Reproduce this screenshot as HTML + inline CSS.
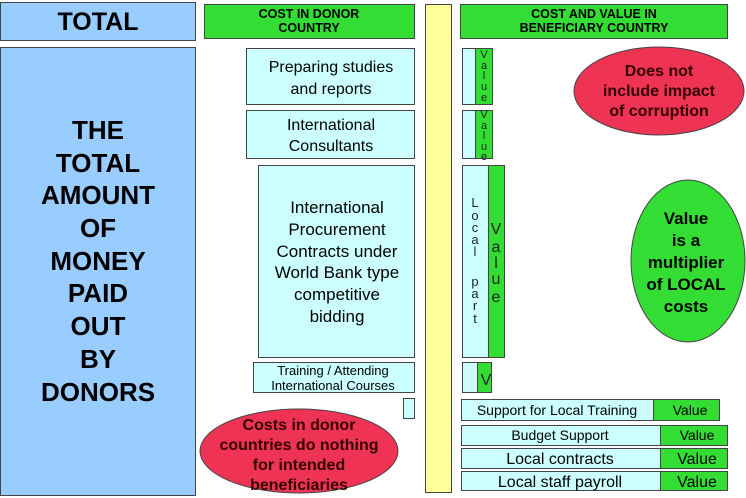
<!DOCTYPE html>
<html><head><meta charset="utf-8"><style>
html,body{margin:0;padding:0;background:#fff;width:746px;height:498px;overflow:hidden}
svg{display:block;font-family:"Liberation Sans",Arial,sans-serif}
</style></head><body>
<svg width="746" height="498" viewBox="0 0 746 498" xmlns="http://www.w3.org/2000/svg">
<g stroke="#444" stroke-width="1">
<rect x="0.5" y="2.5" width="195" height="38" fill="#99ccff"/>
<rect x="0.5" y="47.5" width="195" height="448" fill="#99ccff"/>
<rect x="204.5" y="4.5" width="210" height="34" fill="#33dd33"/>
<rect x="425.5" y="4.5" width="26" height="488" fill="#ffff99"/>
<rect x="460.5" y="4.5" width="267" height="34" fill="#33dd33"/>
<rect x="246.5" y="48.5" width="168" height="56" fill="#ccffff"/>
<rect x="246.5" y="110.5" width="168" height="48" fill="#ccffff"/>
<rect x="258.5" y="165.5" width="156" height="192" fill="#ccffff"/>
<rect x="253.5" y="362.5" width="161" height="30" fill="#ccffff"/>
<rect x="403.5" y="398.5" width="11" height="20" fill="#ccffff"/>
<rect x="462.5" y="48.5" width="13" height="56" fill="#ccffff"/>
<rect x="475.5" y="48.5" width="17" height="56" fill="#33dd33"/>
<rect x="462.5" y="110.5" width="13" height="48" fill="#ccffff"/>
<rect x="475.5" y="110.5" width="17" height="48" fill="#33dd33"/>
<rect x="462.5" y="165.5" width="26" height="192" fill="#ccffff"/>
<rect x="488.5" y="165.5" width="16" height="192" fill="#33dd33"/>
<rect x="462.5" y="362.5" width="15" height="30" fill="#ccffff"/>
<rect x="477.5" y="362.5" width="14" height="30" fill="#33dd33"/>
<rect x="461.5" y="399.5" width="192" height="21" fill="#ccffff"/>
<rect x="653.5" y="399.5" width="66" height="21" fill="#33dd33"/>
<rect x="461.5" y="425.5" width="199" height="20" fill="#ccffff"/>
<rect x="660.5" y="425.5" width="67" height="20" fill="#33dd33"/>
<rect x="461.5" y="448.5" width="199" height="20" fill="#ccffff"/>
<rect x="660.5" y="448.5" width="67" height="20" fill="#33dd33"/>
<rect x="461.5" y="471.5" width="199" height="19" fill="#ccffff"/>
<rect x="660.5" y="471.5" width="67" height="19" fill="#33dd33"/>
<ellipse cx="299" cy="451" rx="99" ry="42" fill="#ee3355"/>
<ellipse cx="659" cy="91" rx="85" ry="44" fill="#ee3355"/>
<ellipse cx="688" cy="261" rx="57" ry="81" fill="#33dd33"/>
</g>
<g text-anchor="middle" fill="#000">
<text x="98" y="30" font-size="25" font-weight="bold">TOTAL</text>
<g font-size="26" font-weight="bold">
<text x="98" y="139">THE</text><text x="98" y="172">TOTAL</text><text x="98" y="204">AMOUNT</text>
<text x="98" y="237">OF</text><text x="98" y="270">MONEY</text><text x="98" y="302">PAID</text>
<text x="98" y="335">OUT</text><text x="98" y="368">BY</text><text x="98" y="401">DONORS</text>
</g>
<g font-size="12.5" font-weight="bold"><text x="309" y="18">COST IN DONOR</text><text x="309" y="32">COUNTRY</text>
<text x="594" y="18">COST AND VALUE IN</text><text x="594" y="32">BENEFICIARY COUNTRY</text></g>
<g font-size="16"><text x="331" y="72">Preparing studies</text><text x="331" y="94">and reports</text>
<text x="331" y="130">International</text><text x="331" y="151">Consultants</text></g>
<g font-size="17"><text x="337" y="213">International</text><text x="337" y="235">Procurement</text><text x="337" y="257">Contracts under</text>
<text x="337" y="278">World Bank type</text><text x="337" y="300">competitive</text><text x="337" y="322">bidding</text></g>
<g font-size="13"><text x="333" y="375">Training / Attending</text><text x="333" y="390">International Courses</text></g>
<g font-size="16" font-weight="bold" fill="#330000"><text x="299" y="430">Costs in donor</text><text x="299" y="450">countries do nothing</text><text x="299" y="470">for intended</text><text x="299" y="490">beneficiaries</text>
<text x="659" y="76">Does not</text><text x="659" y="96">include impact</text><text x="659" y="116">of corruption</text></g>
<g font-size="17" font-weight="bold"><text x="686" y="224">Value</text><text x="686" y="246">is a</text><text x="686" y="268">multiplier</text><text x="686" y="290">of LOCAL</text><text x="686" y="312">costs</text></g>
<g font-size="11" fill="#222"><text x="484" y="58">V</text><text x="484" y="69">a</text><text x="484" y="79">l</text><text x="484" y="90">u</text><text x="484" y="101">e</text>
<text x="484" y="118">V</text><text x="484" y="129">a</text><text x="484" y="139">l</text><text x="484" y="150">u</text><text x="484" y="160">e</text></g>
<g font-size="13" fill="#222"><text x="475" y="207">L</text><text x="475" y="220">o</text><text x="475" y="232">c</text><text x="475" y="244">a</text><text x="475" y="256">l</text>
<text x="475" y="286">p</text><text x="475" y="298">a</text><text x="475" y="310">r</text><text x="475" y="323">t</text></g>
<g font-size="16" fill="#222"><text x="496" y="234">V</text><text x="496" y="252">a</text><text x="496" y="268">l</text><text x="496" y="284">u</text><text x="496" y="302">e</text>
<text x="486" y="385">V</text></g>
<g font-size="14"><text x="557" y="415">Support for Local Training</text><text x="690" y="415">Value</text>
<text x="560" y="440">Budget Support</text><text x="697" y="440">Value</text></g>
<g font-size="16"><text x="560" y="464">Local contracts</text><text x="697" y="464">Value</text>
<text x="560" y="487">Local staff payroll</text><text x="697" y="487">Value</text></g>
</g>
</svg>
</body></html>
